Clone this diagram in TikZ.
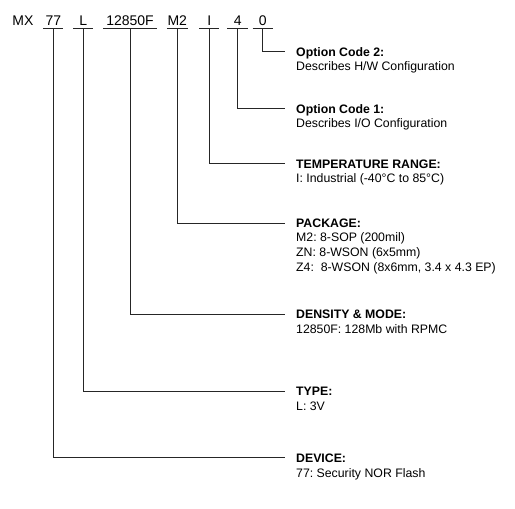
\documentclass[tikz,border=0pt]{standalone}
\usepackage{fontspec}
\setmainfont{Liberation Sans}
\frenchspacing
\begin{document}
\begin{tikzpicture}[x=1pt,y=-1pt,
  code/.style={anchor=base,inner sep=0pt,font=\fontsize{14}{16}\selectfont},
  ttl/.style={anchor=base west,inner sep=0pt,font=\fontsize{12.3}{14.7}\selectfont\bfseries},
  desc/.style={anchor=base west,inner sep=0pt,font=\fontsize{12.3}{14.7}\selectfont},
  ul/.style={line width=0.9pt,black!85},
  conn/.style={line width=0.9pt,black!85}]
\useasboundingbox (0,0) rectangle (515,509);
% top code row
\node[code] (kMX) at (23,25.8) {MX};
\node[code] (k77) at (53.3,25.8) {77};
\node[code] (kL) at (83.3,25.8) {L};
\node[code] (kD) at (130,25.8) {12850F};
\node[code] (kM2) at (177.3,25.8) {M2};
\node[code] (kI) at (209.2,25.8) {I};
\node[code] (k4) at (237.7,25.8) {4};
\node[code] (k0) at (262.7,25.8) {0};
% underline anchor points
\coordinate (u77) at (53.3,28.4);
\coordinate (uL) at (83.3,28.4);
\coordinate (uD) at (130,28.4);
\coordinate (uM2) at (177.3,28.4);
\coordinate (uI) at (209.2,28.4);
\coordinate (u4) at (237.7,28.4);
\coordinate (u0) at (262.7,28.4);
\draw[ul] (43.3,28.4) -- (63.3,28.4);
\draw[ul] (73.3,28.4) -- (93.3,28.4);
\draw[ul] (103,28.4) -- (157,28.4);
\draw[ul] (166.8,28.4) -- (187.8,28.4);
\draw[ul] (199,28.4) -- (219.3,28.4);
\draw[ul] (227.4,28.4) -- (247.8,28.4);
\draw[ul] (252.7,28.4) -- (272.7,28.4);
% connector ends
\coordinate (e0) at (285,51);
\coordinate (e4) at (285,108.3);
\coordinate (eI) at (285,163.3);
\coordinate (eM2) at (285,223.3);
\coordinate (eD) at (285,314);
\coordinate (eL) at (285,391);
\coordinate (e77) at (285,457.7);
\draw[conn] (u0) |- (e0);
\draw[conn] (u4) |- (e4);
\draw[conn] (uI) |- (eI);
\draw[conn] (uM2) |- (eM2);
\draw[conn] (uD) |- (eD);
\draw[conn] (uL) |- (eL);
\draw[conn] (u77) |- (e77);
% descriptions
\node[ttl] (t0) at (296,56) {Option Code 2:};
\node[desc] (d0) at (296,70.5) {Describes H/W Configuration};
\node[ttl] (t4) at (296,113.1) {Option Code 1:};
\node[desc] (d4) at (296,127.6) {Describes I/O Configuration};
\node[ttl] (tI) at (296,168.1) {TEMPERATURE RANGE:};
\node[desc] (dI) at (296,182.6) {I: Industrial (-40°C to 85°C)};
\node[ttl] (tM2) at (296,227.2) {PACKAGE:};
\node[desc] (dM2a) at (296,241.6) {M2: 8-SOP (200mil)};
\node[desc] (dM2b) at (296,256.2) {ZN: 8-WSON (6x5mm)};
\node[desc] (dM2c) at (296,271) {Z4:\ \ 8-WSON (8x6mm, 3.4 x 4.3 EP)};
\node[ttl] (tD) at (296,318.6) {DENSITY \& MODE:};
\node[desc] (dD) at (296,333.2) {12850F: 128Mb with RPMC};
\node[ttl] (tL) at (296,395.7) {TYPE:};
\node[desc] (dL) at (296,410.4) {L: 3V};
\node[ttl] (t77) at (296,462.3) {DEVICE:};
\node[desc] (d77) at (296,477) {77: Security NOR Flash};
\end{tikzpicture}
\end{document}
